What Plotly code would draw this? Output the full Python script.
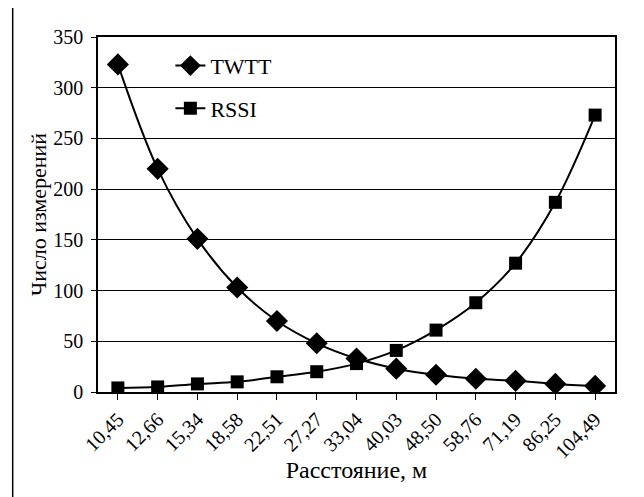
import plotly.graph_objects as go

categories = ["10,45", "12,66", "15,34", "18,58", "22,51", "27,27", "33,04",
              "40,03", "48,50", "58,76", "71,19", "86,25", "104,49"]
twtt = [323, 220, 151, 103, 70, 48, 33, 23, 17, 13, 11, 8, 6]
rssi = [4, 5, 8, 10, 15, 20, 28, 41, 61, 88, 127, 187, 273]
y_ticks = [0, 50, 100, 150, 200, 250, 300, 350]

FONT = "Liberation Serif"

fig = go.Figure()
fig.add_trace(go.Scatter(
    x=categories, y=twtt, name="TWTT", mode="lines+markers",
    line=dict(color="black", width=2, shape="spline"),
    marker=dict(symbol="diamond", size=17, color="black"),
    legend="legend", showlegend=True,
))
fig.add_trace(go.Scatter(
    x=categories, y=rssi, name="RSSI", mode="lines+markers",
    line=dict(color="black", width=2, shape="spline"),
    marker=dict(symbol="square", size=13, color="black"),
    legend="legend2", showlegend=True,
))

fig.update_layout(
    width=644, height=497,
    margin=dict(l=90, r=37, t=29, b=113),
    paper_bgcolor="white", plot_bgcolor="white",
    showlegend=True,
    font=dict(family=FONT, size=20, color="black"),
    legend=dict(x=0.14, y=0.978, xanchor="left", yanchor="top",
                bgcolor="rgba(0,0,0,0)", font=dict(size=22, family=FONT)),
    legend2=dict(x=0.14, y=0.858, xanchor="left", yanchor="top",
                 bgcolor="rgba(0,0,0,0)", font=dict(size=22, family=FONT)),
    xaxis=dict(
        type="category", tickangle=-45, automargin=False,
        showline=True, linecolor="black", linewidth=1.5, mirror=True,
        ticks="outside", ticklen=6, tickcolor="black",
        showgrid=False, tickfont=dict(size=20, family=FONT),
        title=dict(text="Расстояние, м", font=dict(size=24, family=FONT), standoff=0),
        range=[-0.5, 12.5],
    ),
    yaxis=dict(
        range=[0, 350], tickvals=y_ticks, automargin=False,
        showline=True, linecolor="black", linewidth=1.5, mirror=True,
        showgrid=True, gridcolor="black", gridwidth=1.2,
        ticks="outside", ticklen=5, tickcolor="black", ticklabelstandoff=4,
        tickfont=dict(size=20, family=FONT), zeroline=False,
        title=dict(text="Число измерений", font=dict(size=22, family=FONT), standoff=1),
    ),
)

# outer frame (left and top edges of the scanned box)
fig.add_shape(type="line", xref="paper", yref="paper",
              x0=-0.165, x1=1.1, y0=1.09, y1=1.09,
              line=dict(color="black", width=1.5))
fig.add_shape(type="line", xref="paper", yref="paper",
              x0=-0.165, x1=-0.165, y0=1.09, y1=-0.35,
              line=dict(color="black", width=1.5))

fig.write_html("out.html")
